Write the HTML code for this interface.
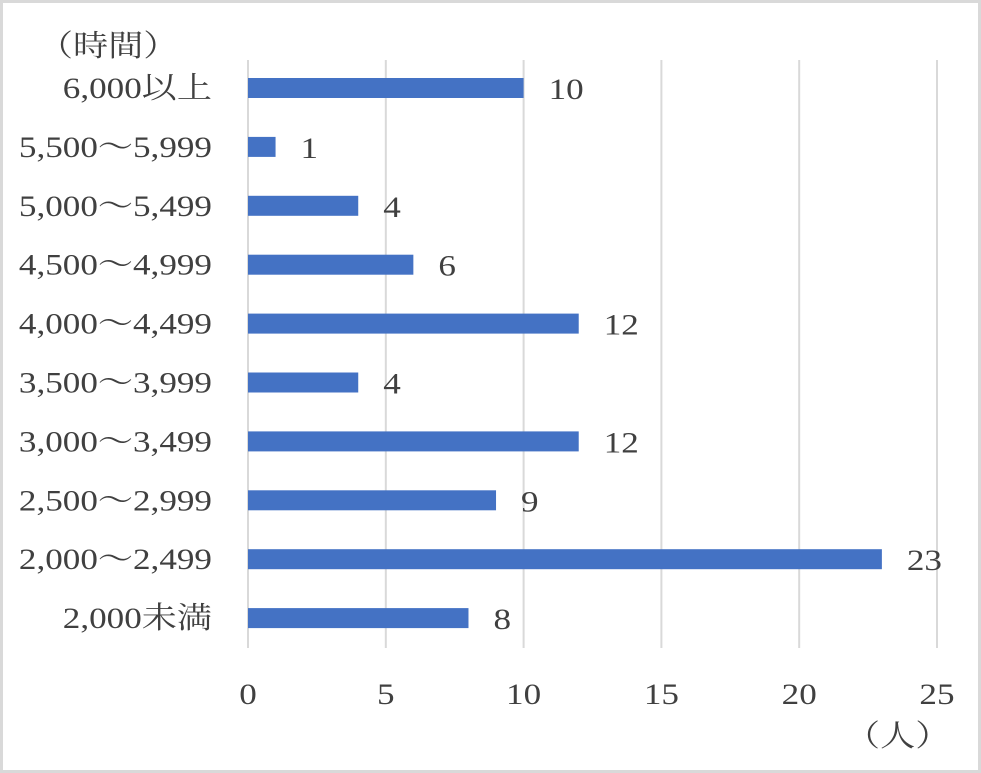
<!DOCTYPE html>
<html><head><meta charset="utf-8"><style>
body{margin:0;background:#fff}
svg{display:block}
text{font-family:"Liberation Serif","Noto Serif CJK JP",serif;fill:#404040}
</style></head><body>
<svg id="c" width="981" height="773">
<rect x="1.5" y="1.5" width="978" height="770" fill="#fff" stroke="#d9d9d9" stroke-width="3"/>
<text class="s" x="38" y="56" font-size="30">（時間）</text>
<text class="s" x="845" y="746" font-size="30">（人）</text>
<g id="grid"></g><g id="bars"></g>
</svg>
<script>
const categories=["6,000以上","5,500～5,999","5,000～5,499","4,500～4,999","4,000～4,499","3,500～3,999","3,000～3,499","2,500～2,999","2,000～2,499","2,000未満"];
const values=[10,1,4,6,12,4,12,9,23,8];
const ticks=[0,5,10,15,20,25];
const NS="http://www.w3.org/2000/svg";
const x=v=>248+v*(937-248)/25;
const y=i=>88+i*58.9;
const grid=document.getElementById('grid'),bars=document.getElementById('bars');
function mk(t,a,p){const e=document.createElementNS(NS,t);for(const k in a)e.setAttribute(k,a[k]);p.appendChild(e);return e;}
ticks.forEach(t=>{
 const l=mk('line',{x1:x(t),x2:x(t),y1:60,y2:648,stroke:'#d9d9d9','stroke-width':2},grid);
 
 
 const tx=mk('text',{x:x(t),y:704,'font-size':30,'text-anchor':'middle',class:'s'},grid);
 tx.textContent=t;
 
 
});
categories.forEach((c,i)=>{
 const lb=mk('text',{x:212,y:y(i)+10,'font-size':30,'text-anchor':'end',class:'s'},bars);
 lb.textContent=c;
 
 
 const r=mk('rect',{x:x(0),y:y(i)-10,width:x(values[i])-x(0),height:20,fill:'#4472c4'},bars);
 
 
 const v=mk('text',{x:x(values[i])+25,y:y(i)+11,'font-size':30,class:'s'},bars);
 v.textContent=values[i];
 
 
});
document.querySelectorAll('text.s').forEach(t=>{
 const w=t.getComputedTextLength();
 t.setAttribute('textLength',w*1.17);
 t.setAttribute('lengthAdjust','spacingAndGlyphs');
});
</script>
</body></html>
